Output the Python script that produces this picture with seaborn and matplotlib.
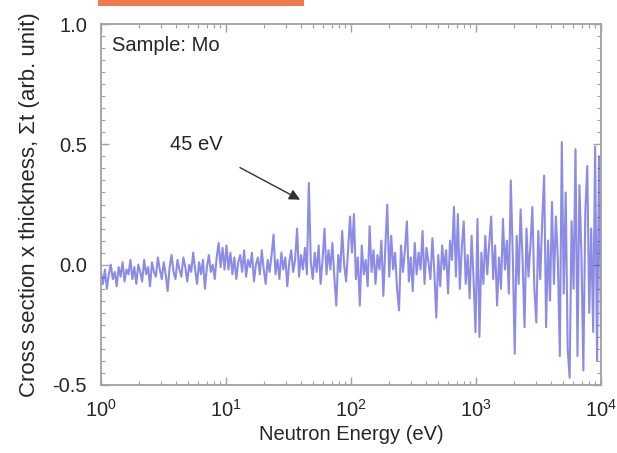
import numpy as np
import pandas as pd
import matplotlib
matplotlib.use("Agg")
import matplotlib.pyplot as plt
from matplotlib.ticker import MultipleLocator, LogLocator, FixedLocator
from matplotlib.patches import Rectangle
import seaborn as sns

# ---- data (one list per energy decade) ----
decade_1_10 = [-0.03, -0.08, -0.02, -0.10, -0.04, 0.00, -0.06, -0.03, -0.09, -0.01,
               -0.05, 0.01, -0.07, -0.02, -0.04, 0.02, -0.06, -0.01, -0.08, 0.00,
               -0.03, -0.07, 0.02, -0.04, -0.01, -0.09, 0.01, -0.03, -0.05, 0.03,
               -0.02, -0.06, 0.01, -0.04, -0.11, -0.01, 0.04, -0.03, -0.06, 0.02,
               -0.02, -0.05, 0.03, -0.01, -0.07, 0.00, -0.03, 0.05, -0.02, -0.08,
               0.01, -0.04, 0.02, -0.10, -0.01, 0.04, -0.03, 0.00, -0.06, 0.03,
               0.09, -0.01, 0.07, -0.02]
decade_10_100 = [0.08, -0.02, 0.05, -0.04, 0.03, -0.06, 0.01, 0.04, -0.03, 0.06,
                 -0.05, 0.02, -0.01, 0.05, -0.07, 0.00, 0.03, -0.04, 0.06, -0.02,
                 -0.08, 0.02, -0.03, 0.04, 0.125, -0.04, 0.02, -0.06, 0.05, -0.02,
                 0.03, -0.09, 0.01, 0.06, -0.03, 0.02, 0.15, -0.05, 0.04, -0.02,
                 0.07, -0.04, 0.34, 0.01, -0.06, 0.05, -0.03, 0.08, -0.08, 0.02,
                 0.15, -0.04, 0.06, -0.02, 0.09, -0.05, -0.17, 0.04, -0.03, 0.14,
                 0.00, -0.07, 0.06, 0.20]
decade_100_1000 = [0.05, 0.21, -0.06, 0.03, -0.17, 0.08, -0.04, 0.02, -0.09, 0.16,
                   -0.03, 0.06, -0.08, 0.04, -0.02, 0.10, -0.13, 0.07, 0.25, -0.05,
                   0.12, -0.02, 0.05, -0.10, -0.19, 0.08, -0.03, 0.06, 0.18, -0.07,
                   0.03, -0.11, 0.09, -0.04, 0.05, -0.02, 0.14, -0.08, 0.07, 0.01,
                   -0.06, 0.11, -0.03, -0.22, 0.04, -0.09, 0.08, -0.02, 0.06, -0.12,
                   0.10, 0.02, 0.24, -0.05, 0.21, -0.10, 0.07, 0.18, -0.08, 0.04,
                   -0.14, 0.12, -0.06, -0.28]
decade_1000_10000 = [0.19, -0.30, 0.05, -0.08, 0.12, -0.04, 0.09, 0.20, -0.06, 0.08,
                     -0.17, 0.03, -0.10, 0.19, -0.02, 0.10, -0.12, 0.35, 0.04, -0.37,
                     0.12, -0.08, 0.23, 0.02, -0.26, 0.15, -0.05, 0.08, 0.24, -0.10,
                     -0.24, 0.14, -0.06, 0.18, 0.37, -0.26, 0.10, -0.15, 0.26, -0.08,
                     0.20, 0.02, -0.38, 0.51, -0.12, 0.30, -0.35, -0.47, 0.18, -0.10,
                     0.48, -0.38, 0.33, 0.05, -0.44, 0.22, 0.41, -0.20, 0.15, -0.28,
                     0.49, -0.40, 0.45, -0.30]

y_ticks = [-0.5, 0.0, 0.5, 1.0]
y_tick_labels = ["-0.5", "0.0", "0.5", "1.0"]
x_ticks = [1, 10, 100, 1000, 10000]
sample_label = "Sample: Mo"
peak_label = "45 eV"
peak_energy = 45.0

sigma_t = np.array(decade_1_10 + decade_10_100 + decade_100_1000 + decade_1000_10000)
energy = np.logspace(0, 4, len(sigma_t))
df = pd.DataFrame({"energy": energy, "sigma_t": sigma_t})

# ---- style ----
sns.set_theme(style="ticks")
plt.rcParams["font.family"] = ["Liberation Sans", "DejaVu Sans"]
plt.rcParams["axes.unicode_minus"] = False
plt.rcParams["mathtext.fontset"] = "custom"
plt.rcParams["mathtext.rm"] = "Liberation Sans"
plt.rcParams["mathtext.it"] = "Liberation Sans:italic"

fig = plt.figure(figsize=(6.17, 4.53), dpi=100)
ax = fig.add_axes([101 / 617, 1 - 385 / 453, 500 / 617, 361 / 453])

sns.lineplot(data=df, x="energy", y="sigma_t", ax=ax, estimator=None,
             color="#4040d8", alpha=0.6, linewidth=1.5)

ax.set_xscale("log")
ax.set_xlim(1, 10000)
ax.set_ylim(-0.5, 1.0)
ax.xaxis.set_major_locator(FixedLocator(x_ticks))
ax.xaxis.set_minor_locator(LogLocator(base=10, subs=np.arange(2, 10)))
ax.yaxis.set_major_locator(FixedLocator(y_ticks))
ax.set_yticklabels(y_tick_labels)
ax.yaxis.set_minor_locator(MultipleLocator(0.05))

spine_col = "#a0a0a0"
for s in ax.spines.values():
    s.set_color(spine_col)
    s.set_linewidth(1.3)
ax.tick_params(which="both", direction="in", top=True, right=True,
               colors=spine_col, labelcolor="#262626", labelsize=14.5)
ax.tick_params(which="major", length=6, width=1.0, pad=10)
ax.tick_params(which="minor", length=3, width=0.8)

ax.set_xlabel("Neutron Energy (eV)", fontsize=14.5, color="#262626", labelpad=3)
ax.set_ylabel("Cross section x thickness, \u03a3t (arb. unit)", fontsize=16,
              color="#262626", labelpad=9)

ax.text(0.022, 0.94, sample_label, transform=ax.transAxes, fontsize=14.5,
        color="#262626", ha="left", va="center")

ax.annotate(peak_label, xy=(peak_energy * 0.87, 0.27), xytext=(5.8, 0.50),
            textcoords="data", fontsize=14.5, color="#262626", ha="center", va="center",
            arrowprops=dict(arrowstyle="-|>", color="#303030", lw=1.0,
                            mutation_scale=16, shrinkA=16, shrinkB=0))

fig.patches.append(Rectangle((98 / 617, 1 - 6 / 453), 206 / 617, 6 / 453,
                             transform=fig.transFigure, facecolor="#f07a50",
                             edgecolor="none"))

fig.savefig("out.png", dpi=100)
